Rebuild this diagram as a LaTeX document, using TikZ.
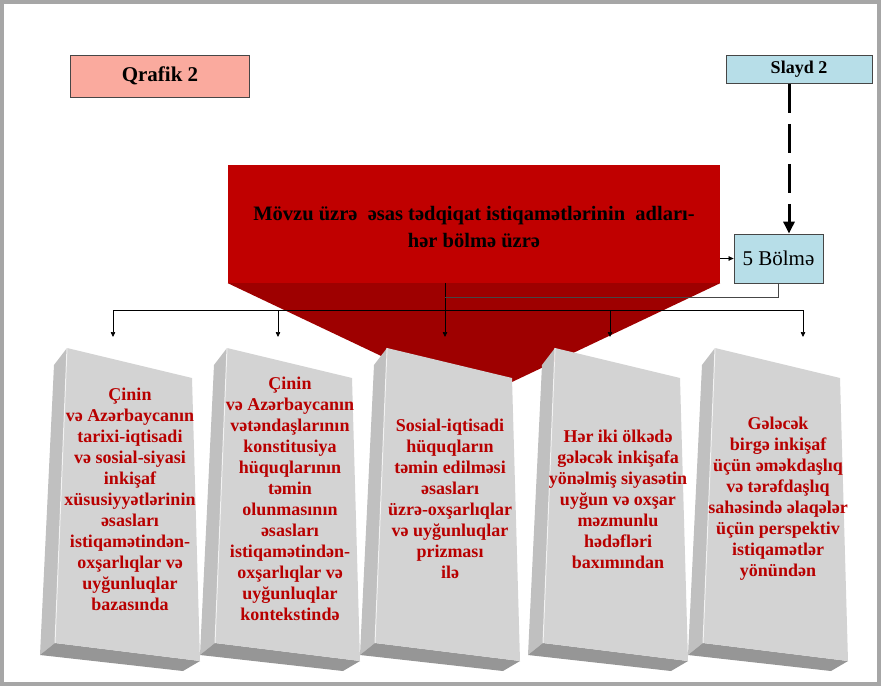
\documentclass[tikz,border=0pt]{standalone}
\usepackage{fontspec}
\setmainfont{Liberation Serif}
\usetikzlibrary{arrows.meta}
\definecolor{framegray}{RGB}{166,166,166}
\definecolor{qpink}{RGB}{250,170,158}
\definecolor{lblue}{RGB}{183,222,232}
\definecolor{edgegray}{RGB}{70,70,70}
\definecolor{redtop}{RGB}{192,0,0}
\definecolor{reddark}{RGB}{158,0,0}
\definecolor{boxred}{RGB}{184,0,0}
\definecolor{frontgray}{RGB}{211,211,211}
\definecolor{sidegray}{RGB}{192,192,192}
\definecolor{bottomgray}{RGB}{150,150,150}
\tikzset{
  labelbox/.style={draw=edgegray, line width=0.8pt, inner sep=0pt, font=\bfseries},
  conn/.style={draw=black, line width=0.7pt},
  arr/.style={conn, -{Triangle[length=5pt,width=4.5pt]}},
  dasharr/.style={draw=black, line width=3pt, dash pattern=on 29pt off 11pt, -{Triangle[length=12pt,width=11pt]}},
  boxtext/.style={text=boxred, align=center, font=\fontsize{18}{21}\selectfont\bfseries, inner sep=0pt},
}
\newcommand\drawslab[3]{%
  \fill[sidegray] (#1,348) -- ({#1-13},365) -- ({#1-27},655) -- ({#1-12},643) -- cycle;
  \fill[bottomgray] ({#1-12},643) -- ({#1+133},661) -- ({#1+116},671) -- ({#1-27},655) -- cycle;
  \fill[frontgray] (#1,348) -- ({#1+125},378) -- ({#1+133},661) -- ({#1-12},643) -- cycle;
  \draw[white, line width=1pt, opacity=0.7] (#1,348) -- ({#1-12},643);
  \node[boxtext] (#2) at ({#1+63},499) {#3};
}
\begin{document}
\begin{tikzpicture}[x=1pt,y=-1pt]
\useasboundingbox (0,0) rectangle (881,686);
\fill[white] (0,0) rectangle (881,686);
\draw[framegray, line width=4pt] (2,2) rectangle (879,684);

% top label boxes
\node[labelbox, fill=qpink, minimum width=179pt, minimum height=42pt, font=\fontsize{21}{24}\selectfont\bfseries] (qrafik) at (160,76) {Qrafik 2};
\node[labelbox, fill=lblue, minimum width=146pt, minimum height=28pt, font=\fontsize{18}{20}\selectfont\bfseries] (slayd) at (799,69.5) {Slayd 2};
\node[labelbox, fill=lblue, minimum width=89pt, minimum height=49pt, font=\fontsize{21}{24}\selectfont] (bolme) at (778.5,258.5) {5 Bölmə};

% red heading shape
\node[fill=redtop, minimum width=492pt, minimum height=118pt, inner sep=0pt] (red) at (474,224) {};
\coordinate (apex) at (474,400);
\fill[reddark] (red.south west) -- (red.south east) -- (apex) -- cycle;
\node[align=center, font=\fontsize{20.5}{27}\selectfont\bfseries, inner sep=0pt] (title) at (474,227)
  {Mövzu üzrə\ \ əsas tədqiqat istiqamətlərinin\ \ adları-\\hər bölmə üzrə};

% slabs
\drawslab{67}{s1}{Çinin\\və Azərbaycanın\\tarixi-iqtisadi\\və sosial-siyasi\\inkişaf\\xüsusiyyətlərinin\\əsasları\\istiqamətindən-\\oxşarlıqlar və\\uyğunluqlar\\bazasında}
\drawslab{227}{s2}{Çinin\\və Azərbaycanın\\vətəndaşlarının\\konstitusiya\\hüquqlarının\\təmin\\olunmasının\\əsasları\\istiqamətindən-\\oxşarlıqlar və\\uyğunluqlar\\kontekstində}
\drawslab{387}{s3}{Sosial-iqtisadi\\hüquqların\\təmin edilməsi\\əsasları\\üzrə-oxşarlıqlar\\və uyğunluqlar\\prizması\\ilə}
\drawslab{555}{s4}{Hər iki ölkədə\\gələcək inkişafa\\yönəlmiş siyasətin\\uyğun və oxşar\\məzmunlu\\hədəfləri\\baxımından}
\drawslab{715}{s5}{Gələcək\\birgə inkişaf\\üçün əməkdaşlıq\\və tərəfdaşlıq\\sahəsində əlaqələr\\üçün perspektiv\\istiqamətlər\\yönündən}

% connectors
\coordinate (t1) at (113,337);
\coordinate (t2) at (278,337);
\coordinate (t3) at (445,337);
\coordinate (t4) at (610,337);
\coordinate (t5) at (803,337);
\coordinate (busy) at (0,310);
\coordinate (join) at (445,297);
\coordinate (dx) at (789,0);

\draw[conn] (t1 |- busy) -- (t5 |- busy);
\draw[arr] (t1 |- busy) -- (t1);
\draw[arr] (t2 |- busy) -- (t2);
\draw[arr] (red.south -| t3) -- (t3);
\draw[arr] (t4 |- busy) -- (t4);
\draw[arr] (t5 |- busy) -- (t5);
\draw[conn, draw=edgegray] (bolme.south) |- (join);
\draw[arr] (bolme.west -| red.east) -- (bolme.west);
\draw[dasharr] (slayd.south -| dx) -- (bolme.north -| dx);
\end{tikzpicture}
\end{document}
